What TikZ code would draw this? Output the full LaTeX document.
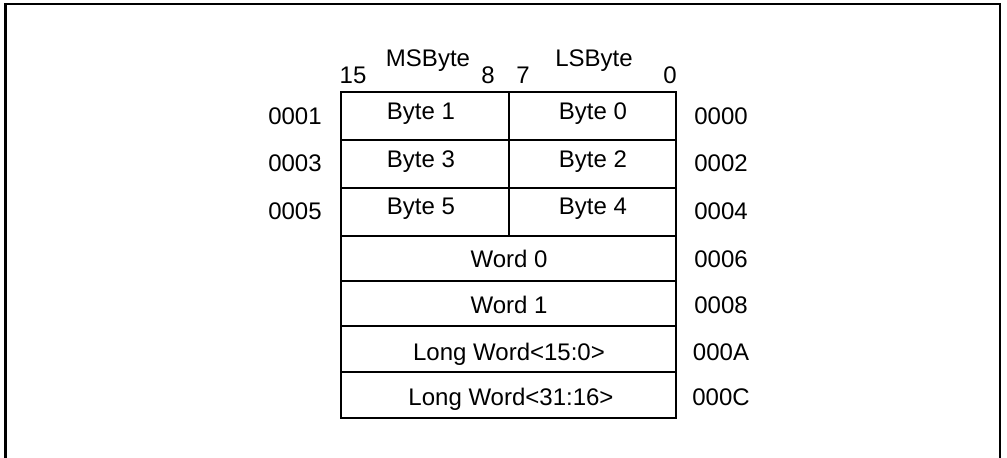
\documentclass[tikz,border=0pt]{standalone}
\usepackage{fontspec}
\setmainfont{Liberation Sans}
\begin{document}
\begin{tikzpicture}[x=0.5pt,y=-0.5pt,font=\fontsize{12}{14}\selectfont]
    \useasboundingbox (0,0) rectangle (1007,458);
    \draw [line width=1.1pt] (5.5,458) |- (1000,4) -- (1000,458);

    \begin{scope}[line width=0.8pt]
      \draw (341,92) rectangle (676,418);
      \foreach \y in {140,188,236,281,326,372}{
        \draw (341,\y) -- (676,\y);
      }
      \draw (509,92) -- (509,236);
    \end{scope}

    % bit numbers and byte names
    \node [anchor=base] (bit15) at (353,84) {15};
    \node [anchor=base] (bit8)  at (488,84) {8};
    \node [anchor=base] (bit7)  at (523,84) {7};
    \node [anchor=base] (bit0)  at (670,84) {0};
    \node [anchor=base] (msb) at (428,67) {MSByte};
    \node [anchor=base] (lsb) at (594,67) {LSByte};

    \foreach \hi/\lo/\y [count=\i] in {1/0/120,3/2/168,5/4/215}{
      \node [anchor=base] (hi\i) at (421,\y) {Byte \hi};
      \node [anchor=base] (lo\i) at (593,\y) {Byte \lo};
    }
    \node [anchor=base] (word0) at (509,268) {Word 0};
    \node [anchor=base] (word1) at (509,314) {Word 1};
    \node [anchor=base] (lwlo)  at (509,361) {Long Word<15:0>};
    \node [anchor=base] (lwhi)  at (511,406) {Long Word<31:16>};

    % addresses
    \foreach \odd/\even/\y [count=\i] in {0001/0000/125,0003/0002/172,0005/0004/220}{
      \node [anchor=base] (odd\i)  at (295,\y) {\odd};
      \node [anchor=base] (even\i) at (721,\y) {\even};
    }
    \foreach \a/\y [count=\i] in {0006/268,0008/314,000A/361,000C/406}{
      \node [anchor=base] (addr\i) at (721,\y) {\a};
    }
\end{tikzpicture}
\end{document}
